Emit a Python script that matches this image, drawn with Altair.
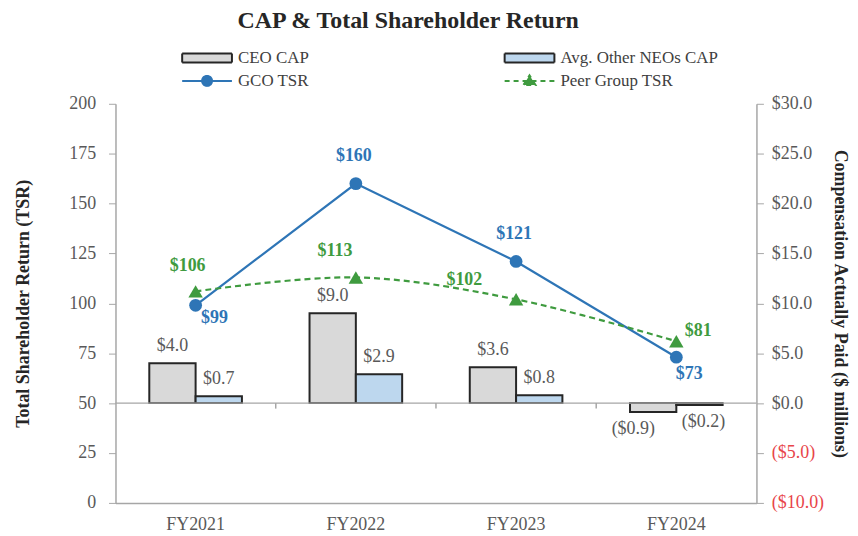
import altair as alt
import pandas as pd

# ---------------- data ----------------
years = ["FY2021", "FY2022", "FY2023", "FY2024"]
ceo_cap = [4.0, 9.0, 3.6, -0.9]
neo_cap = [0.7, 2.9, 0.8, -0.2]
gco_tsr = [99, 160, 121, 73]
peer_tsr = [106, 113, 102, 81]

series_names = ["CEO CAP", "Avg. Other NEOs CAP", "GCO TSR", "Peer Group TSR"]
series_colors = ["#d9d9d9", "#bdd7ee", "#2e75b6", "#3f9b3f"]

tsr_ticks = [0, 25, 50, 75, 100, 125, 150, 175, 200]
comp_ticks = [-10, -5, 0, 5, 10, 15, 20, 25, 30]

bars_df = pd.DataFrame({
    "year": years * 2,
    "series": [series_names[0]] * 4 + [series_names[1]] * 4,
    "value": ceo_cap + neo_cap,
})
tsr_df = pd.DataFrame({
    "year": years * 2,
    "series": [series_names[2]] * 4 + [series_names[3]] * 4,
    "value": gco_tsr + peer_tsr,
})
zero_df = pd.DataFrame({"comp": [0.0]})
boundary_df = pd.DataFrame({"year": years[1:]})

# ---------------- style ----------------
SERIF = "Liberation Serif"
GRAY_TXT = "#595959"
AXIS_GRAY = "#a6a6a6"
BLUE = series_colors[2]
GREEN = series_colors[3]
RED = "#e8454a"

x_enc = alt.X(
    "year:N", sort=years,
    scale=alt.Scale(domain=years, paddingInner=0, paddingOuter=0),
    axis=alt.Axis(title=None, ticks=False, labelAngle=0, labelFont=SERIF,
                  labelFontSize=18, labelColor=GRAY_TXT, labelPadding=13,
                  domainColor=AXIS_GRAY, domainWidth=1.5),
)
x_plain = alt.X("year:N", sort=years, scale=alt.Scale(domain=years, paddingInner=0, paddingOuter=0))

comp_scale = alt.Scale(domain=[-10, 30], nice=False, zero=True)
tsr_scale = alt.Scale(domain=[0, 200], nice=False)

comp_axis = alt.Axis(
    orient="right", values=comp_ticks, title="Compensation Actually Paid ($ millions)",
    titleFont=SERIF, titleFontSize=18, titleFontWeight="bold", titleColor="#262626",
    titlePadding=7,
    labelExpr="datum.value < 0 ? '($' + format(-datum.value, '.1f') + ')' : '$' + format(datum.value, '.1f')",
    labelColor={"condition": {"test": "datum.value < 0", "value": RED}, "value": GRAY_TXT},
    labelFont=SERIF, labelFontSize=18, labelPadding=8, tickSize=7,
    tickColor=AXIS_GRAY, domainColor=AXIS_GRAY, domainWidth=1.5, grid=False,
)
tsr_axis = alt.Axis(
    orient="left", values=tsr_ticks, title="Total Shareholder Return (TSR)",
    titleFont=SERIF, titleFontSize=18, titleFontWeight="bold", titleColor="#262626",
    titlePadding=36, labelFont=SERIF, labelFontSize=18, labelColor=GRAY_TXT,
    labelPadding=13, tickSize=7, tickColor=AXIS_GRAY, domainColor=AXIS_GRAY,
    domainWidth=1.5, grid=False,
)

def pick(names, vals):
    s = ""
    for n, v in zip(names[:-1], vals[:-1]):
        s += "datum.value === '%s' ? %s : " % (n, v)
    return s + vals[-1]

q = lambda c: "'%s'" % c
legend = alt.Legend(
    title=None, orient="none", legendX=78.5, legendY=-59.5, columns=2,
    direction="horizontal",
    columnPadding=192, rowPadding=1, padding=0, labelFont=SERIF,
    labelFontSize=17, labelColor="#404040", symbolSize=625, labelOffset=17.5,
    symbolType={"expr": pick(series_names, [
        q("M-2,-0.36H2V0.36H-2Z"), q("M-2,-0.36H2V0.36H-2Z"),
        q("M-2,0H2M-0.4,0A0.4,0.4,0,1,0,0.4,0A0.4,0.4,0,1,0,-0.4,0"),
        q("M-2,0H2M-0.48,0.32L0,-0.45L0.48,0.32Z")])},
    symbolStrokeColor={"expr": pick(series_names, [q("#262626"), q("#262626"), q(BLUE), q(GREEN)])},
    symbolDash={"expr": pick(series_names, ["[1,0]", "[1,0]", "[1,0]", "[5,4]"])},
    symbolStrokeWidth=2, symbolOpacity=1,
)
# legend entries for all four series come from the bar fill scale
color_enc = alt.Color("series:N", scale=alt.Scale(domain=series_names, range=series_colors), legend=legend)

# ---------------- compensation (right axis) ----------------
xoff = alt.XOffset("series:N", sort=series_names[:2],
                   scale=alt.Scale(domain=series_names[:2], paddingInner=0, paddingOuter=0.73))
bars = alt.Chart(bars_df).mark_bar(stroke="#262626", strokeWidth=2).encode(
    x=x_enc, xOffset=xoff,
    y=alt.Y("value:Q", scale=comp_scale, axis=comp_axis),
    y2=alt.datum(0),
    color=color_enc,
)
zero_rule = alt.Chart(zero_df).mark_rule(color=AXIS_GRAY, strokeWidth=1.5).encode(y="comp:Q")
boundary_ticks = alt.Chart(boundary_df).mark_rule(color=AXIS_GRAY, strokeWidth=1.5).encode(
    x=alt.X("year:N", sort=years, bandPosition=0, scale=alt.Scale(domain=years, paddingInner=0, paddingOuter=0)),
    y=alt.datum(0), y2=alt.datum(-0.55),
)

label_expr = "datum.value < 0 ? '($' + format(-datum.value, '.1f') + ')' : '$' + format(datum.value, '.1f')"
def bar_label(filter_expr, dx, dy):
    return alt.Chart(bars_df).transform_calculate(label=label_expr).transform_filter(filter_expr).mark_text(
        font=SERIF, fontSize=18, color=GRAY_TXT, baseline="middle", align="center", dx=dx, dy=dy
    ).encode(x=x_plain, xOffset=xoff, y="value:Q", text="label:N")

bar_labels = [
    bar_label("datum.value >= 0", 0, -17),
    bar_label("datum.value < 0 && datum.series === '%s'" % series_names[0], -20, 17),
    bar_label("datum.value < 0 && datum.series === '%s'" % series_names[1], 4, 17),
]

comp_layer = alt.layer(bars, zero_rule, boundary_ticks, *bar_labels)

# ---------------- TSR (left axis) ----------------
gco = alt.Chart(tsr_df).transform_filter("datum.series === '%s'" % series_names[2])
peer = alt.Chart(tsr_df).transform_filter("datum.series === '%s'" % series_names[3])

y_tsr = alt.Y("value:Q", scale=tsr_scale, axis=tsr_axis)
y_tsr_plain = alt.Y("value:Q")

gco_line = gco.mark_line(strokeWidth=2.2, color=BLUE).encode(x=x_plain, y=y_tsr)
peer_line = peer.mark_line(strokeWidth=2.2, strokeDash=[6, 4], interpolate="catmull-rom", color=GREEN).encode(
    x=x_plain, y=y_tsr_plain)
peer_pts = peer.mark_point(filled=True, shape="triangle-up", size=210, color=GREEN, opacity=1).encode(
    x=x_plain, y=y_tsr_plain)
gco_pts = gco.mark_point(filled=True, shape="circle", size=165, color=BLUE, opacity=1).encode(
    x=x_plain, y=y_tsr_plain)

gco_offsets = {"FY2021": (19, 13), "FY2022": (-2, -28), "FY2023": (-2, -28), "FY2024": (13, 17)}
peer_offsets = {"FY2021": (-8, -25), "FY2022": (-21, -27), "FY2023": (-52, -19), "FY2024": (22, -10)}

def tsr_labels(base, offsets, color):
    layers = []
    for yr, (dx, dy) in offsets.items():
        layers.append(base.transform_filter("datum.year === '%s'" % yr).transform_calculate(
            label="'$' + format(datum.value, 'd')"
        ).mark_text(font=SERIF, fontSize=18, fontWeight="bold", color=color,
                    baseline="middle", align="center", dx=dx, dy=dy).encode(
            x=x_plain, y=y_tsr_plain, text="label:N"))
    return layers

tsr_layer = alt.layer(gco_line, peer_line, peer_pts, gco_pts,
                      *tsr_labels(gco, gco_offsets, BLUE),
                      *tsr_labels(peer, peer_offsets, GREEN))

chart = alt.layer(comp_layer, tsr_layer).resolve_scale(y="independent").properties(
    width=644, height=401,
    autosize=alt.AutoSizeParams(type="none"),
    padding={"left": 108, "top": 95, "right": 94, "bottom": 31},
    title=alt.Title("CAP & Total Shareholder Return", font=SERIF, fontSize=24,
                    fontWeight="bold", color="#262626", anchor="middle", dx=-28, dy=-8),
).configure_view(stroke=None).configure_axis(grid=False)

chart.save("out.html", embed_options={"renderer": "svg", "actions": False})
